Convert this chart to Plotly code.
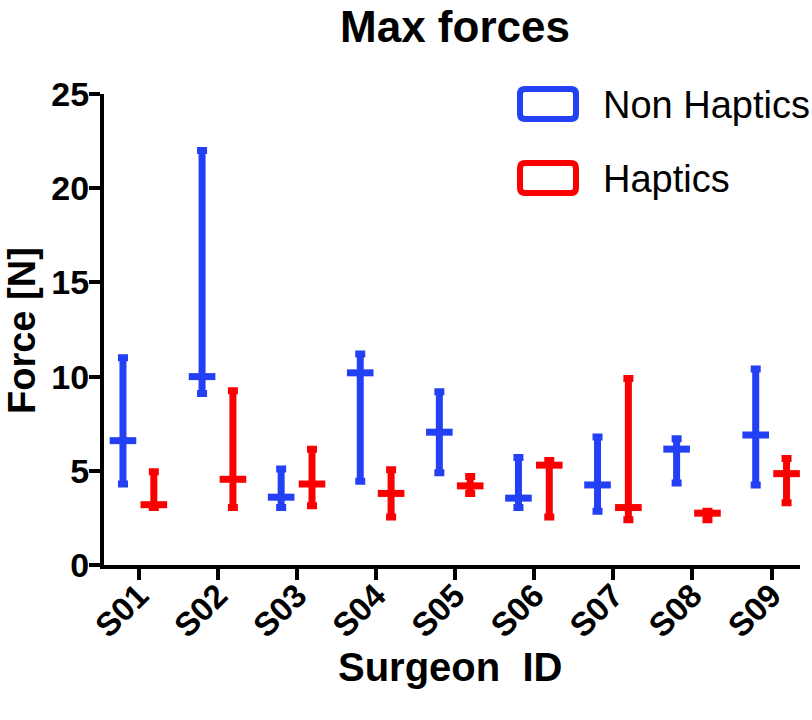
import plotly.graph_objects as go

# ---- data ----
surgeons = ["S01", "S02", "S03", "S04", "S05", "S06", "S07", "S08", "S09"]

nh_min = [4.3, 9.1, 3.05, 4.45, 4.9, 3.05, 2.85, 4.35, 4.25]
nh_med = [6.6, 10.0, 3.6, 10.2, 7.05, 3.55, 4.25, 6.15, 6.9]
nh_max = [11.0, 22.0, 5.1, 11.2, 9.2, 5.7, 6.8, 6.7, 10.4]

h_min = [3.05, 3.05, 3.15, 2.55, 3.8, 2.55, 2.4, 2.4, 3.3]
h_med = [3.2, 4.55, 4.3, 3.8, 4.2, 5.3, 3.05, 2.75, 4.85]
h_max = [4.95, 9.25, 6.15, 5.05, 4.7, 5.55, 9.9, 2.85, 5.65]

series_names = ["Non Haptics", "Haptics"]
y_ticks = [0, 5, 10, 15, 20, 25]

# ---- style ----
BLUE = "#2340f5"
RED = "#fa0000"
FONT = "Liberation Sans, Arial, Helvetica, sans-serif"
W, H = 812, 720
ML, MR, MT, MB = 104, 12, 94, 155
PW, PH = W - ML - MR, H - MT - MB

fig = go.Figure()


def add_series(name, mins, meds, maxs, offset, color):
    xs = [i + offset for i in range(len(surgeons))]
    fig.add_trace(go.Scatter(
        x=xs, y=meds, name=name, mode="markers", showlegend=False,
        marker=dict(symbol="line-ew", size=19, color=color,
                    line=dict(width=7, color=color)),
        error_y=dict(type="data", symmetric=False,
                     array=[mx - md for mx, md in zip(maxs, meds)],
                     arrayminus=[md - mn for md, mn in zip(meds, mins)],
                     color=color, thickness=7, width=5),
        customdata=list(zip(mins, maxs)),
        hovertemplate="%{text}<br>median %{y}<br>min %{customdata[0]}<br>max %{customdata[1]}<extra>" + name + "</extra>",
        text=surgeons,
    ))


add_series(series_names[0], nh_min, nh_med, nh_max, -0.2, BLUE)
add_series(series_names[1], h_min, h_med, h_max, 0.19, RED)


def px2paper(px, py):
    return (px - ML) / PW, (H - MB - py) / PH


def rounded_rect(x0, y0, x1, y1, r):
    def P(x, y):
        a, b = px2paper(x, y)
        return f"{a:.5f},{b:.5f}"
    return (f"M {P(x0 + r, y0)} L {P(x1 - r, y0)} Q {P(x1, y0)} {P(x1, y0 + r)} "
            f"L {P(x1, y1 - r)} Q {P(x1, y1)} {P(x1 - r, y1)} "
            f"L {P(x0 + r, y1)} Q {P(x0, y1)} {P(x0, y1 - r)} "
            f"L {P(x0, y0 + r)} Q {P(x0, y0)} {P(x0 + r, y0)} Z")


shapes = []
annotations = []
for j, (name, color) in enumerate(zip(series_names, [BLUE, RED])):
    cy = 104 + j * 74
    shapes.append(dict(type="path", xref="paper", yref="paper",
                       path=rounded_rect(520, cy - 15, 576, cy + 15, 5),
                       line=dict(color=color, width=6)))
    ax, ay = px2paper(601, cy + 1)
    annotations.append(dict(x=ax, y=ay, xref="paper", yref="paper",
                            text=name, showarrow=False, xanchor="left", yanchor="middle",
                            font=dict(family=FONT, size=38, color="black")))

# axis titles as annotations (pixel-placed)
tx, ty = px2paper(450, 667)
annotations.append(dict(x=tx, y=ty, xref="paper", yref="paper",
                        text="<b>Surgeon\u00a0\u00a0ID</b>", showarrow=False,
                        xanchor="center", yanchor="middle",
                        font=dict(family=FONT, size=40, color="black")))
tx, ty = px2paper(22, 331)
annotations.append(dict(x=tx, y=ty, xref="paper", yref="paper",
                        text="<b>Force [N]</b>", showarrow=False, textangle=-90,
                        xanchor="center", yanchor="middle",
                        font=dict(family=FONT, size=38, color="black")))

fig.update_layout(
    width=W, height=H,
    margin=dict(l=ML, r=MR, t=MT, b=MB),
    paper_bgcolor="white", plot_bgcolor="white",
    font=dict(family=FONT, color="black"),
    title=dict(text="<b>Max forces</b>", x=455 / W, xanchor="center",
               y=1 - 27 / H, yanchor="middle",
               font=dict(family=FONT, size=44, color="black")),
    shapes=shapes, annotations=annotations,
    showlegend=False,
    xaxis=dict(range=[-0.44, 8.36], tickmode="array",
               tickvals=list(range(len(surgeons))),
               ticktext=[f"<b>{s}</b>" for s in surgeons],
               tickangle=-45, ticks="outside", ticklen=11, tickwidth=4,
               tickcolor="black", showline=True, linewidth=4, linecolor="black",
               showgrid=False, zeroline=False, ticklabelstandoff=-17,
               tickfont=dict(family=FONT, size=33, color="black")),
    yaxis=dict(range=[0, 25], tickmode="array", tickvals=y_ticks,
               ticktext=[f"<b>{t}</b>" for t in y_ticks],
               ticks="outside", ticklen=11, tickwidth=4, tickcolor="black",
               showline=True, linewidth=4, linecolor="black",
               showgrid=False, zeroline=False, ticklabelstandoff=-7,
               tickfont=dict(family=FONT, size=34, color="black")),
)

# remove the browser's default 8px body margin so the figure sits at the page origin
fig.write_html("out.html", config={"displayModeBar": False},
               post_script="document.body.style.margin='0';document.body.style.overflow='hidden';")
